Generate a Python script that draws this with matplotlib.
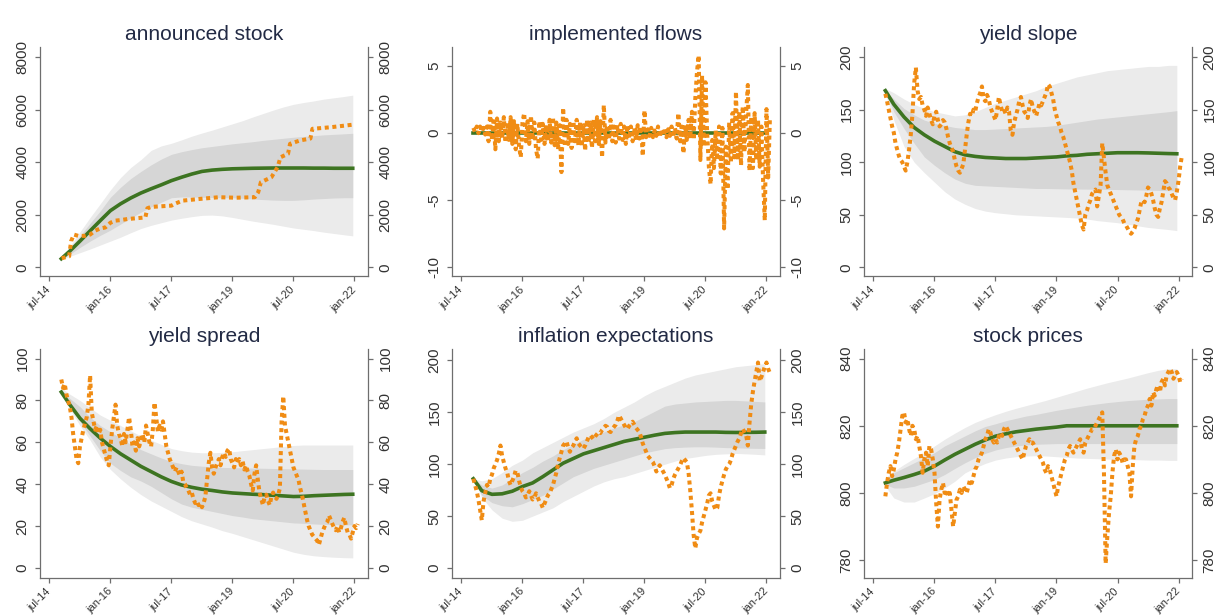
import matplotlib

matplotlib.use("Agg")
import matplotlib.pyplot as plt
import numpy as np

plt.rcParams["font.family"] = ["Liberation Sans", "DejaVu Sans"]
plt.rcParams["axes.unicode_minus"] = False

# x axis is months since jul-14
tick_months = [0, 18, 36, 54, 72, 90]
tick_labels = ["jul-14", "jan-16", "jul-17", "jan-19", "jul-20", "jan-22"]

# months at which the model median and bands were read
band_months = [3.5, 6, 9, 12, 15, 18, 21, 24, 27, 30, 33, 36, 39, 42, 45,
               48, 51, 54, 57, 60, 63, 66, 69, 72, 75, 78, 81, 84, 87, 89.5]

# observed series are read every half month, starting mid-oct-14
obs_start = 3.5
obs_step = 0.5

# --- announced stock ---
stock_med = [330, 620, 1000, 1390, 1780, 2160, 2420, 2640, 2830, 2990, 3140, 3300, 3430, 3550, 3650,
             3700, 3730, 3750, 3760, 3770, 3775, 3780, 3780, 3780, 3780, 3775, 3775, 3770, 3770, 3770]
stock_out_hi = [350, 800, 1350, 1900, 2420, 2950, 3420, 3800, 4100, 4450, 4620, 4720, 4850, 4990, 5110,
                5220, 5340, 5460, 5580, 5720, 5850, 5980, 6100, 6200, 6270, 6330, 6400, 6450, 6500, 6550]
stock_out_lo = [300, 420, 560, 700, 850, 1000, 1150, 1320, 1480, 1600, 1700, 1800, 1870, 1930, 1980,
                1990, 1960, 1900, 1830, 1760, 1700, 1640, 1570, 1500, 1450, 1400, 1340, 1290, 1240, 1200]
stock_in_hi = [340, 720, 1200, 1680, 2150, 2670, 3050, 3380, 3650, 3900, 4120, 4300, 4400, 4480, 4550,
               4600, 4650, 4700, 4740, 4780, 4830, 4870, 4910, 4950, 4980, 5010, 5040, 5060, 5080, 5100]
stock_in_lo = [310, 500, 760, 1000, 1220, 1420, 1650, 1880, 2100, 2300, 2480, 2650, 2680, 2680, 2670,
               2660, 2650, 2650, 2630, 2600, 2580, 2560, 2550, 2550, 2570, 2600, 2620, 2640, 2650, 2650]
stock_obs_months = [3.6, 4.5, 5.8, 6.4, 7.2, 8.5, 10.5, 12.0, 13.5, 15.0, 16.5, 18.0, 19.5, 21.0,
                    23.0, 28.3, 28.9, 30.0, 36.0, 37.0, 39.3, 44.0, 50.0, 55.0, 60.6, 61.6, 62.4,
                    65.5, 67.3, 68.2, 70.4, 71.0, 74.0, 77.0, 77.6, 83.0, 89.7]
stock_obs = [350, 380, 420, 1000, 1250, 1200, 1200, 1250, 1400, 1480, 1520, 1700, 1780, 1800,
             1840, 1900, 2250, 2300, 2350, 2420, 2540, 2600, 2670, 2650, 2670, 2860, 3240,
             3430, 3810, 4190, 4320, 4700, 4830, 4900, 5270, 5330, 5430]

# --- implemented flows ---
flows_med_months = [3.5, 89.5]
flows_med = [0, 0]
flows_obs = [
    0.4, 0.1, 0.5, 0.0, 0.5, 0.1, 0.4, -0.1, 0.5, -0.6, 1.6, -0.5,
    0.9, -1.2, 1.1, -0.6, 0.8, -0.4, 1.2, -0.7, 0.6, -0.5, 1.2, -0.8,
    0.9, -1.2, 0.7, -1.0, -1.8, 0.8, 1.5, -0.6, 0.9, -0.8, 1.3, -0.5,
    0.8, -1.2, -1.9, 0.9, -0.5, 0.7, -0.8, 0.6, -0.6, 1.0, -0.7, 1.2,
    -0.9, 0.8, -1.2, 0.6, -2.9, 1.9, -1.0, 1.0, -0.8, 0.7, -1.1, 0.9,
    -0.6, 1.0, -0.9, 0.8, -1.0, 0.6, -1.3, 1.0, -0.7, 0.8, -1.1, 1.0,
    -0.6, 1.2, -0.8, 0.9, -1.8, 2.1, -0.7, 0.6, -0.5, 1.0, -0.6, 0.5,
    -0.7, 0.6, -0.4, 0.7, -0.5, 0.5, -0.8, 0.6, -0.4, 0.5, -0.6, 0.4,
    -0.5, 0.6, -0.4, 0.5, -1.7, 1.7, -0.3, 0.3, -0.2, 0.4, -0.3, 0.2,
    -0.2, 0.5, -0.3, 0.3, -0.2, 0.4, -0.3, 0.3, -0.2, 0.5, -0.3, 0.4,
    -0.4, 1.5, -0.6, 0.5, -1.5, 0.6, -0.5, 1.0, -0.4, 1.6, -0.5, 2.6,
    4.6, 5.8, -2.0, 4.3, -1.0, 3.8, 0.0, -2.5, -3.8, -0.5, -2.6, 0.2,
    -2.0, 0.5, -3.0, 0.4, -7.1, -1.0, -4.2, 0.8, -2.2, 1.5, -1.8, 3.1,
    -2.0, 1.6, -2.4, 2.0, -1.4, 1.5, 3.6, -2.8, 1.2, -2.6, 1.5, -2.0,
    1.0, -2.5, 0.5, -3.5, -6.5, 1.8, -3.3, 1.0,
]

# --- yield slope ---
slope_med = [168, 155, 143, 133, 126, 120, 115, 110, 107, 105.5, 104.5, 104, 103.5, 103.5, 103.5,
             104, 104.5, 105, 106, 106.5, 107.5, 108, 108.5, 109, 109, 109, 108.8, 108.5, 108.2, 108]
slope_out_hi = [170, 166, 160, 155, 151, 148, 146, 144, 145, 148, 152, 156, 159, 162, 165,
                168, 172, 175, 178, 181, 183, 185, 187, 188, 189, 190, 191, 191, 192, 192]
slope_out_lo = [165, 140, 115, 100, 90, 81, 72, 65, 60, 56, 53.5, 52, 51, 50, 49.5,
                49, 48.5, 48, 47.5, 47, 46, 44.5, 43.5, 42.5, 41, 39.5, 38, 37, 36, 35]
slope_in_hi = [168, 160, 151, 145, 140, 137, 135, 133, 132, 131, 131, 131.5, 132, 132.5, 133,
               133.5, 134, 135, 136.5, 138, 139.5, 141, 142, 143, 144, 145, 146, 147, 148, 149]
slope_in_lo = [166, 148, 132, 118, 105, 97, 90, 84, 80, 78, 77.5, 77, 76.5, 76, 75.5,
               75, 75, 74.8, 74.6, 74.5, 74.4, 74.3, 74.2, 74, 73.8, 73.6, 73.4, 73.2, 73, 73]
slope_obs = [
    165, 158, 150, 142, 134, 128, 118, 112, 106, 102, 100, 96,
    92, 100, 112, 126, 146, 175, 190, 168, 160, 162, 154, 150,
    144, 152, 146, 140, 136, 144, 148, 140, 134, 136, 140, 138,
    132, 124, 118, 114, 110, 102, 96, 92, 90, 94, 98, 112,
    126, 138, 146, 144, 150, 148, 156, 162, 166, 172, 160, 158,
    164, 160, 152, 148, 144, 140, 150, 162, 154, 148, 150, 146,
    152, 148, 130, 126, 138, 144, 150, 158, 162, 154, 148, 146,
    142, 154, 160, 152, 148, 144, 150, 156, 154, 158, 162, 166,
    174, 172, 166, 160, 150, 144, 138, 134, 128, 124, 118, 112,
    106, 100, 92, 80, 72, 64, 56, 48, 40, 36, 50, 54,
    60, 64, 70, 72, 74, 58, 68, 78, 118, 104, 90, 78,
    74, 70, 66, 62, 58, 54, 50, 48, 46, 42, 40, 37,
    34, 32, 34, 37, 42, 46, 54, 62, 64, 62, 68, 76,
    74, 70, 64, 56, 50, 48, 56, 62, 72, 82, 80, 76,
    74, 70, 66, 64, 72, 82, 96, 106,
]

# --- yield spread ---
spread_med = [84, 78, 71.5, 66.5, 62, 58, 54.5, 51.5, 48.5, 46, 43.5, 41.3, 39.6, 38.5, 37.6,
              37, 36.3, 35.8, 35.5, 35.2, 35, 34.7, 34.4, 34.1, 34.2, 34.5, 34.7, 34.9, 35.1, 35.2]
spread_out_hi = [86, 83, 80, 76.5, 73, 70.5, 68, 65.5, 63, 61, 59, 57, 56, 55.3, 55,
                 55, 55.2, 55.5, 56, 56.5, 57, 57.5, 58, 58.5, 58.7, 58.7, 58.7, 58.7, 58.7, 58.7]
spread_out_lo = [84, 76, 68, 61, 53, 47, 42.5, 38.5, 35, 32, 29.5, 27, 24.5, 22.5, 21,
                 19.5, 17.8, 16.5, 15, 13.5, 12, 10.5, 9, 7.5, 6.5, 5.8, 5.4, 5.1, 4.9, 4.8]
spread_in_hi = [85, 81, 77, 72, 68, 65, 62, 59, 56.5, 54.5, 52.5, 50.8, 49.8, 49, 48.6,
                48.3, 48, 47.9, 47.8, 47.7, 47.6, 47.5, 47.4, 47.3, 47.2, 47.1, 47, 47, 47, 47]
spread_in_lo = [84, 77.5, 70, 63, 56, 50, 46.5, 43.5, 41.5, 39, 36, 33, 30.5, 29, 28,
                27, 26, 25, 24.3, 23.5, 23, 22.5, 22, 21.5, 21.3, 21, 20.8, 20.7, 20.6, 20.6]
spread_obs = [
    90, 86, 88, 83, 80, 77, 72, 64, 58, 52, 50, 58,
    62, 66, 69, 72, 78, 92, 74, 70, 66, 68, 64, 66,
    60, 57, 54, 51, 49, 58, 66, 72, 78, 68, 64, 62,
    58, 64, 60, 66, 72, 66, 58, 60, 56, 62, 58, 62,
    64, 60, 68, 64, 60, 58, 66, 79, 72, 65, 68, 66,
    70, 64, 58, 55, 52, 50, 48, 46, 48, 46, 44, 46,
    41, 40, 38, 37, 35, 36, 33, 31, 32, 30, 31, 29,
    31, 34, 42, 50, 55, 48, 45, 48, 50, 52, 49, 53,
    55, 53, 56, 57, 52, 50, 48, 52, 50, 52, 49, 51,
    47, 49, 46, 44, 40, 37, 45, 49, 42, 36, 33, 30,
    34, 35, 32, 30, 34, 36, 34, 33, 35, 38, 70, 82,
    68, 64, 60, 56, 52, 48, 46, 44, 42, 38, 35, 31,
    27, 23, 20, 18, 16, 15, 14, 13, 11, 14, 17, 19,
    21, 22, 25, 23, 21, 19, 18, 20, 17, 19, 22, 24,
    20, 17, 16, 14, 17, 20, 19, 21,
]

# --- inflation expectations ---
infl_med = [86, 74.5, 71, 71.5, 74, 78.5, 82, 88, 94.5, 101, 105.5, 110, 113, 116, 119,
            122, 124, 126, 128, 129.7, 130.5, 131, 131, 131, 131, 130.7, 130.6, 130.7, 130.8, 131]
infl_out_hi = [86, 84, 86, 92, 99, 104, 111, 116, 121, 126, 131, 135, 139, 144, 150,
               155, 160, 166, 171, 175, 179, 183, 186, 188, 190, 192, 194, 195, 196, 197]
infl_out_lo = [86, 68, 56, 48, 45, 46, 50, 54, 58, 64, 69, 74, 79, 83, 86,
               88, 91, 94, 97, 100, 103, 105.5, 107, 108.5, 109.5, 110, 110.4, 110, 109.5, 109]
infl_in_hi = [86, 80, 77, 80, 86, 92, 97, 103, 108, 114, 119, 124, 128, 131, 135,
              138, 141, 146, 151, 156, 158, 159, 160, 160.5, 161, 161.5, 161.5, 161, 160.5, 160]
infl_in_lo = [86, 70, 63, 60, 59, 62, 66, 70, 76, 82, 88, 92, 96, 99, 102,
              105, 108, 111, 113, 115, 116, 116.5, 116.8, 116.8, 116.5, 116, 115.8, 115.5, 115.3, 115.2]
infl_obs = [
    86, 80, 74, 66, 56, 46, 64, 72, 80, 78, 86, 90,
    96, 100, 104, 110, 118, 108, 102, 96, 92, 84, 80, 84,
    88, 94, 92, 84, 78, 74, 72, 68, 70, 74, 70, 66,
    68, 72, 68, 64, 62, 58, 62, 66, 70, 72, 76, 80,
    86, 92, 100, 106, 112, 118, 120, 122, 116, 112, 116, 118,
    122, 125, 120, 118, 116, 115, 118, 122, 126, 128, 126, 124,
    127, 129, 131, 130, 133, 135, 137, 136, 132, 131, 134, 136,
    138, 142, 147, 144, 141, 138, 135, 134, 137, 139, 141, 138,
    135, 133, 131, 126, 120, 116, 112, 108, 106, 104, 102, 98,
    93, 96, 99, 96, 93, 90, 86, 82, 77, 80, 86, 90,
    93, 96, 99, 103, 106, 104, 102, 92, 75, 55, 32, 19,
    29, 33, 36, 44, 50, 56, 62, 70, 72, 64, 60, 56,
    58, 70, 78, 84, 90, 95, 98, 100, 104, 110, 114, 118,
    122, 125, 130, 134, 131, 128, 118, 140, 158, 170, 180, 189,
    198, 180, 184, 189, 194, 198, 192, 188,
]

# --- stock prices ---
px_med = [803, 803.8, 804.6, 805.5, 806.5, 808, 809.8, 811.5, 813, 814.5, 815.8, 816.9, 817.6, 818.2, 818.6,
          819, 819.3, 819.6, 820, 820, 820, 820, 820, 820, 820, 820, 820, 820, 820, 820]
px_out_hi = [804.5, 806.5, 808.5, 810.3, 812, 814, 816, 817.8, 819.5, 821, 822.2, 823.3, 824.3, 825.2, 826,
             826.8, 827.6, 828.5, 829.4, 830.3, 831.2, 832, 832.8, 833.5, 834.2, 835, 835.8, 836.5, 837, 837]
px_out_lo = [802, 798.5, 797.3, 797.3, 798.5, 799.8, 801.5, 803.5, 806, 807.5, 808.8, 809.8, 810.4, 810.8, 811,
             811.1, 811, 810.8, 810.6, 810.4, 810.3, 810.2, 810.1, 810, 810, 809.9, 809.8, 809.8, 809.7, 809.7]
px_in_hi = [804, 806, 807.5, 809, 810.5, 812, 814, 815.5, 817, 818.5, 819.8, 820.6, 821.5, 822.2, 822.9,
            823.4, 824, 824.6, 825.1, 825.6, 826.1, 826.5, 826.9, 827.2, 827.5, 827.7, 827.9, 828, 828.1, 828.1]
px_in_lo = [802.5, 801.5, 801.5, 802, 803, 804, 805.5, 807.3, 809, 810.5, 811.8, 812.8, 813.5, 814, 814.3,
            814.5, 814.6, 814.7, 814.7, 814.7, 814.7, 814.7, 814.7, 814.7, 814.7, 814.7, 814.7, 814.7, 814.7, 814.7]
px_obs = [
    799, 803, 806, 808, 805, 807, 810, 812, 815, 819, 823, 824,
    821, 822, 819, 817, 820, 819, 816, 817, 814, 811, 806, 810,
    812, 808, 814, 813, 810, 806, 797, 790, 798, 801, 803, 800,
    801, 799, 800, 795, 790, 794, 798, 799, 801, 800, 802, 801,
    800, 802, 804, 803, 805, 807, 808, 810, 811, 812, 814, 816,
    817, 819, 818, 816, 815, 816, 815, 817, 818, 817, 819, 820,
    819, 818, 817, 816, 815, 814, 813, 812, 811, 810, 812, 814,
    815, 816, 815, 815, 814, 813, 812, 811, 810, 809, 807, 806,
    808, 807, 805, 803, 801, 799, 802, 804, 806, 808, 810, 811,
    813, 814, 813, 812, 813, 814, 815, 816, 813, 812, 815, 816,
    817, 818, 819, 819, 820, 821, 822, 823, 824, 806, 779, 787,
    794, 799, 806, 811, 813, 810, 812, 811, 809, 810, 810, 808,
    806, 799, 808, 814, 816, 817, 819, 820, 822, 823, 825, 826,
    828, 826, 830, 829, 831, 832, 830, 833, 834, 832, 835, 836,
    837, 836, 834, 835, 836, 835, 833, 834,
]

GREEN = "#3d7421"
ORANGE = "#f08c14"
OUTER = "#ebebeb"
INNER = "#d6d6d6"
AXIS = "#6e6e6e"


def obs_x(values):
    return obs_start + obs_step * np.arange(len(values))


panels = [
    dict(title="announced stock", ticks=[0, 2000, 4000, 6000, 8000], ylim=(-343, 8381),
         med_x=band_months, med=stock_med, inner=(stock_in_lo, stock_in_hi),
         outer=(stock_out_lo, stock_out_hi), x=stock_obs_months, y=stock_obs),
    dict(title="implemented flows", ticks=[-10, -5, 0, 5], ylim=(-10.68, 6.43),
         med_x=flows_med_months, med=flows_med, inner=None, outer=None,
         x=obs_x(flows_obs), y=flows_obs),
    dict(title="yield slope", ticks=[0, 50, 100, 150, 200], ylim=(-8.6, 209.5),
         med_x=band_months, med=slope_med, inner=(slope_in_lo, slope_in_hi),
         outer=(slope_out_lo, slope_out_hi), x=obs_x(slope_obs), y=slope_obs),
    dict(title="yield spread", ticks=[0, 20, 40, 60, 80, 100], ylim=(-4.8, 104.8),
         med_x=band_months, med=spread_med, inner=(spread_in_lo, spread_in_hi),
         outer=(spread_out_lo, spread_out_hi), x=obs_x(spread_obs), y=spread_obs),
    dict(title="inflation expectations", ticks=[0, 50, 100, 150, 200], ylim=(-9.6, 211.5),
         med_x=band_months, med=infl_med, inner=(infl_in_lo, infl_in_hi),
         outer=(infl_out_lo, infl_out_hi), x=obs_x(infl_obs), y=infl_obs),
    dict(title="stock prices", ticks=[780, 800, 820, 840], ylim=(774.7, 843),
         med_x=band_months, med=px_med, inner=(px_in_lo, px_in_hi),
         outer=(px_out_lo, px_out_hi), x=obs_x(px_obs), y=px_obs),
]

fig, axes = plt.subplots(2, 3, figsize=(12.18, 6.15), dpi=100)
fig.subplots_adjust(left=0.0328, right=0.9787, top=0.9236, bottom=0.0602,
                    wspace=0.256, hspace=0.314)

for ax, p in zip(axes.flat, panels):
    if p["outer"] is not None:
        ax.fill_between(band_months, p["outer"][0], p["outer"][1], color=OUTER, lw=0, zorder=1)
    if p["inner"] is not None:
        ax.fill_between(band_months, p["inner"][0], p["inner"][1], color=INNER, lw=0, zorder=2)
    ax.plot(p["med_x"], p["med"], color=GREEN, lw=2.6, zorder=3)
    ax.plot(p["x"], p["y"], color=ORANGE, lw=2.9, ls=(0, (1.0, 0.9)), zorder=4)

    ax.set_xlim(-2.8, 94)
    ax.set_ylim(*p["ylim"])
    ax.set_yticks(p["ticks"])
    ax.set_xticks(tick_months)
    ax.set_xticklabels(tick_labels, rotation=45, ha="right", va="center", rotation_mode="anchor")
    ax.set_title(p["title"], fontsize=15, color="#222a44", pad=5)

    ax.spines["top"].set_visible(False)
    for s in ("left", "right", "bottom"):
        ax.spines[s].set_color(AXIS)
        ax.spines[s].set_linewidth(0.9)
    ax.tick_params(axis="y", left=True, right=True, labelleft=True, labelright=True,
                   labelrotation=90, labelsize=11, length=3.5, width=0.9,
                   color=AXIS, labelcolor="#333333", pad=4)
    ax.tick_params(axis="x", labelsize=8, length=3.5, width=0.9,
                   color=AXIS, labelcolor="#333333", pad=5)
    for lbl in ax.yaxis.get_ticklabels():
        lbl.set_va("center")

fig.savefig("out.png", dpi=100)
plt.close(fig)
